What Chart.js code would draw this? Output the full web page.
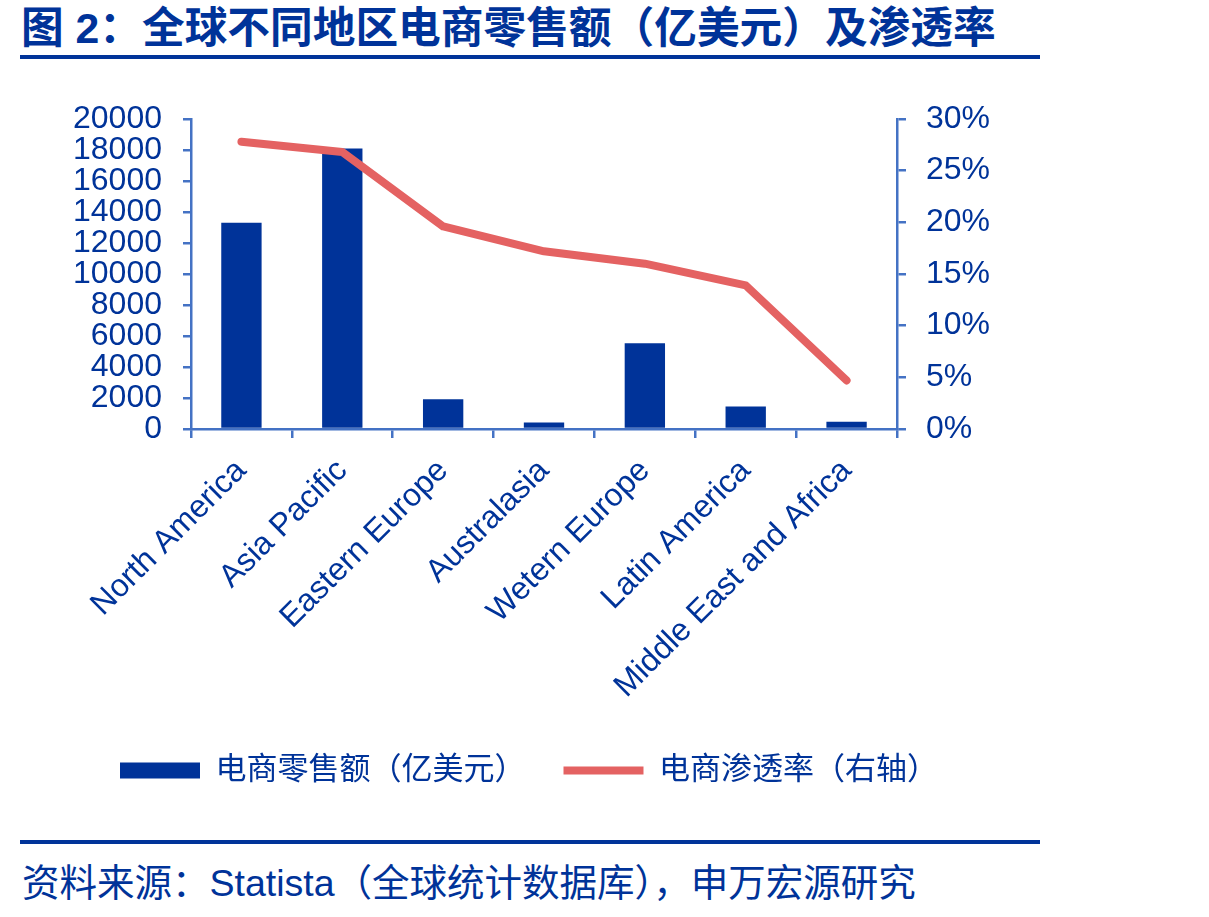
<!DOCTYPE html>
<html>
<head>
<meta charset="utf-8">
<script src="https://cdn.jsdelivr.net/npm/chart.js@4.4.1/dist/chart.umd.min.js"></script>
<style>
  html, body { margin: 0; padding: 0; background: #fff; }
  body { width: 1209px; height: 917px; position: relative; overflow: hidden;
         font-family: 'Liberation Sans', Arial, 'Noto Sans CJK SC', sans-serif; color: #003399; }
  #title { position: absolute; left: 21px; top: 7px; font-size: 42.7px; line-height: 42px; font-weight: bold; white-space: nowrap; }
  .rule { position: absolute; left: 20px; width: 1020px; height: 4px; background: #003399; }
  #source { position: absolute; left: 22px; top: 865px; font-size: 37.5px; line-height: 37.5px; white-space: nowrap; }
  #wrap { position: absolute; left: 0; top: 0; width: 1058px; height: 801px; }
</style>
</head>
<body>
<div id="title">图 2：全球不同地区电商零售额（亿美元）及渗透率</div>
<div class="rule" style="top:55px"></div>
<div id="wrap"><canvas id="chart"></canvas></div>
<div class="rule" style="top:840px"></div>
<div id="source">资料来源：Statista（全球统计数据库），申万宏源研究</div>

<script>
// data
const regions = ['North America', 'Asia Pacific', 'Eastern Europe', 'Australasia',
                 'Wetern Europe', 'Latin America', 'Middle East and Africa'];
const salesValues = [13300, 18100, 1920, 420, 5540, 1450, 460];      // 亿美元
const penetrationValues = [27.8, 26.8, 19.6, 17.2, 16.0, 13.9, 4.7];  // %
const salesTicks = { min: 0, max: 20000, step: 2000 };
const rateTicks = { min: 0, max: 30, step: 5 };

const axisBlue = '#4472C4';
const textBlue = '#003399';
const barBlue = '#003399';
const lineRed = '#E46262';

Chart.defaults.font.family = "'Liberation Sans', Arial, 'Noto Sans CJK SC', sans-serif";
Chart.defaults.color = textBlue;

const axisGrid = len => ({
    display: true,
    drawOnChartArea: false,
    drawTicks: true,
    tickLength: len,
    color: axisBlue,
    lineWidth: 2.5
});
const axisBorder = { display: true, color: axisBlue, width: 2.5 };

const chart = new Chart(document.getElementById('chart'), {
    data: {
        labels: regions,
        datasets: [
            {
                type: 'bar',
                label: '电商零售额（亿美元）',
                data: salesValues,
                backgroundColor: barBlue,
                borderWidth: 0,
                barPercentage: 0.4,
                categoryPercentage: 1.0,
                pointStyle: 'rect',
                yAxisID: 'y',
                order: 1
            },
            {
                type: 'line',
                label: '电商渗透率（右轴）',
                data: penetrationValues,
                borderColor: lineRed,
                backgroundColor: lineRed,
                borderWidth: 8,
                borderCapStyle: 'round',
                borderJoinStyle: 'round',
                pointRadius: 0,
                pointHoverRadius: 0,
                pointStyle: 'line',
                tension: 0,
                fill: false,
                yAxisID: 'y1',
                order: 0
            }
        ]
    },
    options: {
        responsive: true,
        maintainAspectRatio: false,
        animation: false,
        layout: { padding: { top: 119, left: 0, right: 0, bottom: 5 } },
        plugins: {
            tooltip: { enabled: false },
            legend: {
                position: 'bottom',
                labels: {
                    usePointStyle: true,
                    pointStyleWidth: 80,
                    boxHeight: 16,
                    padding: 38,
                    color: textBlue,
                    font: { size: 31 },
                    sort: (a, b) => a.datasetIndex - b.datasetIndex
                }
            }
        },
        scales: {
            x: {
                grid: axisGrid(9),
                border: axisBorder,
                ticks: {
                    autoSkip: false,
                    minRotation: 45,
                    maxRotation: 45,
                    padding: 14,
                    color: textBlue,
                    font: { size: 32 }
                },
                afterFit: scale => { scale.height = 288; }
            },
            y: {
                position: 'left',
                min: salesTicks.min,
                max: salesTicks.max,
                grid: axisGrid(8),
                border: axisBorder,
                ticks: {
                    stepSize: salesTicks.step,
                    autoSkip: false,
                    padding: 21,
                    color: textBlue,
                    font: { size: 32 },
                    callback: v => String(v)
                },
                afterFit: scale => { scale.width = 191; }
            },
            y1: {
                position: 'right',
                min: rateTicks.min,
                max: rateTicks.max,
                grid: axisGrid(9),
                border: axisBorder,
                ticks: {
                    stepSize: rateTicks.step,
                    autoSkip: false,
                    padding: 20,
                    color: textBlue,
                    font: { size: 32 },
                    callback: v => v + '%'
                },
                afterFit: scale => { scale.width = 161; }
            }
        }
    }
});
</script>
</body>
</html>
